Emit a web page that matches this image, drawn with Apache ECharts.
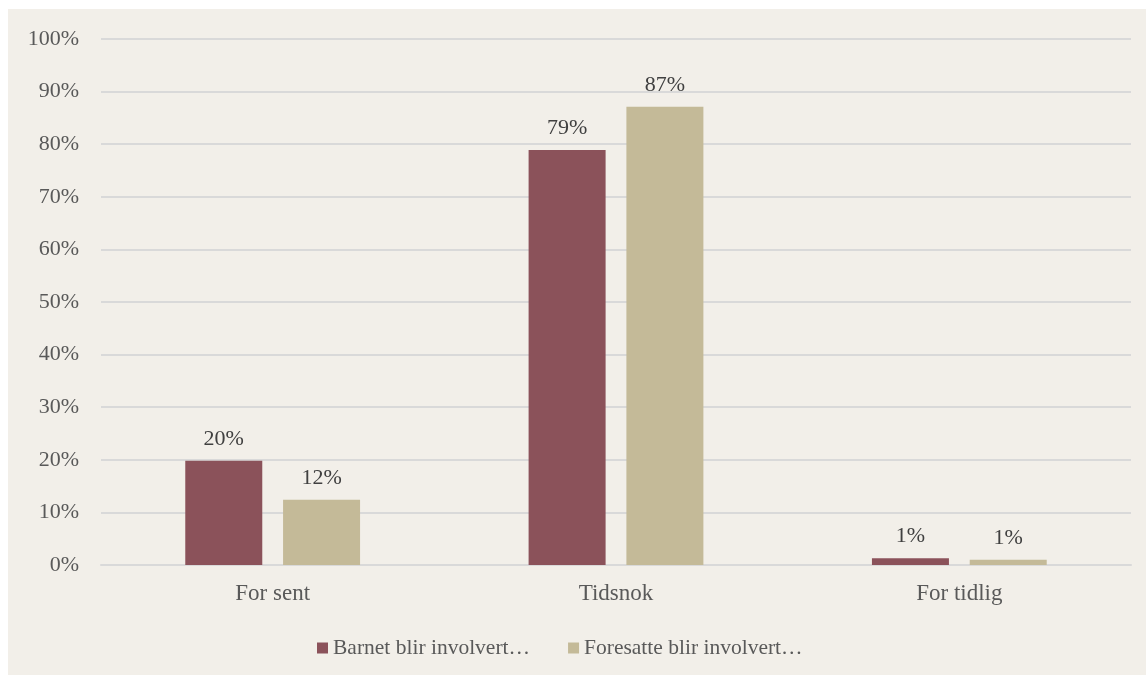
<!DOCTYPE html>
<html>
<head>
<meta charset="utf-8">
<script src="https://cdn.jsdelivr.net/npm/echarts@6/dist/echarts.min.js"></script>
<style>
html,body{margin:0;padding:0;background:#ffffff;}
#wrap{position:absolute;left:8px;top:9px;width:1138px;height:666px;background:#F2EFE9;}
#chart{width:1138px;height:666px;}
</style>
</head>
<body>
<div id="wrap"><div id="chart"></div></div>
<script>
const categories = ['For sent', 'Tidsnok', 'For tidlig'];
const seriesNames = ['Barnet blir involvert…', 'Foresatte blir involvert…'];
const barnet = [19.8, 78.9, 1.3];
const foresatte = [12.4, 87.1, 1.0];
const yTicks = [0, 10, 20, 30, 40, 50, 60, 70, 80, 90, 100];

const font = 'Liberation Serif';
const chart = echarts.init(document.getElementById('chart'));
const labelOpt = {
  show: true, position: 'top', distance: 11,
  fontFamily: font, fontSize: 22, color: '#404040',
  formatter: p => Math.round(p.value) + '%'
};
chart.setOption({
  backgroundColor: 'transparent',
  animation: false,
  grid: {left: 93, right: 15, top: 30, bottom: 110},
  legend: {
    left: 304, top: 623,
    itemWidth: 11, itemHeight: 11, itemGap: 38,
    icon: 'rect',
    textStyle: {fontFamily: font, fontSize: 21.5, color: '#595959'},
    data: seriesNames
  },
  xAxis: {
    type: 'category', data: categories,
    axisLine: {lineStyle: {color: '#D9D9D9', width: 2}},
    axisTick: {show: false},
    axisLabel: {fontFamily: font, fontSize: 23, color: '#595959', margin: 17}
  },
  yAxis: {
    type: 'value', min: yTicks[0], max: yTicks[yTicks.length - 1], interval: 10,
    axisLine: {show: false}, axisTick: {show: false},
    splitLine: {lineStyle: {color: '#D9D9D9', width: 2}},
    axisLabel: {fontFamily: font, fontSize: 22, color: '#595959', margin: 22, formatter: v => v + '%'}
  },
  series: [
    {name: seriesNames[0], type: 'bar', data: barnet, barWidth: 77, barGap: '27%',
     itemStyle: {color: '#8B525A'}, label: labelOpt},
    {name: seriesNames[1], type: 'bar', data: foresatte, barWidth: 77,
     itemStyle: {color: '#C4BA98'}, label: labelOpt}
  ]
});
</script>
</body>
</html>
